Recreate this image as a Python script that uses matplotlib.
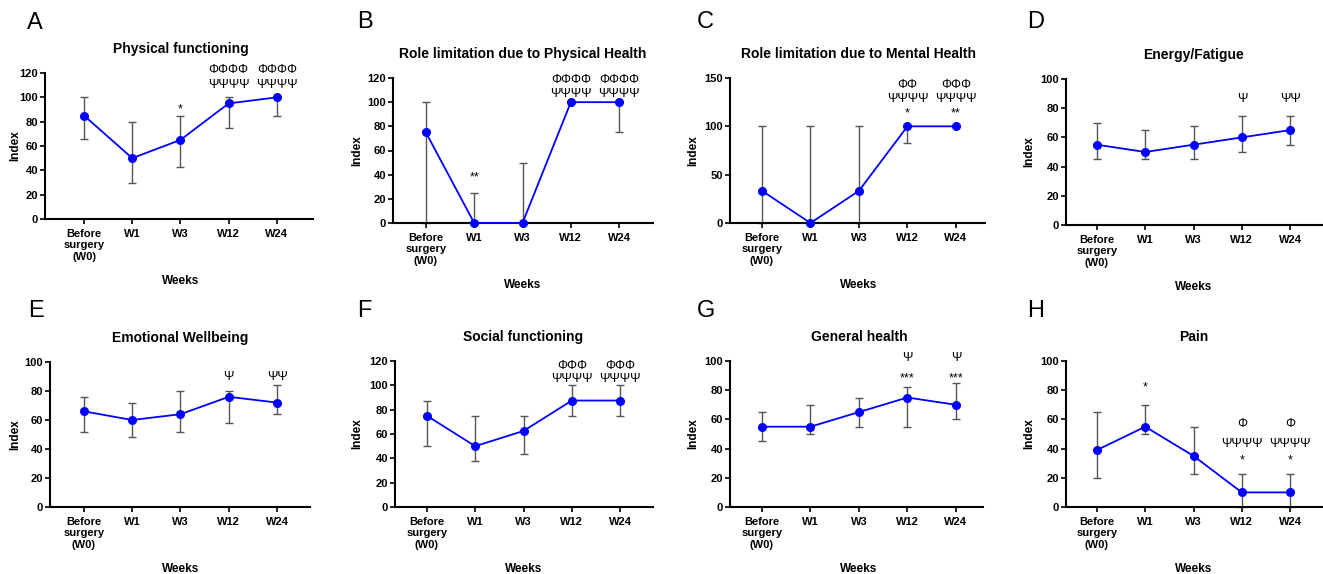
import numpy as np
import matplotlib.pyplot as plt

plt.rcParams['font.family'] = ['Liberation Sans', 'DejaVu Sans']

W, H = 1323, 574
weeks = ['Before\nsurgery\n(W0)', 'W1', 'W3', 'W12', 'W24']

# A - Physical functioning
phys_med = [85, 50, 65, 95, 100]
phys_lo = [66, 30, 43, 75, 85]
phys_hi = [100, 80, 85, 100, 100]
phys_ann = [(2, 90, '*'), (3, 122.5, 'ΦΦΦΦ'), (3, 110.5, 'ΨΨΨΨ'),
            (4, 122.5, 'ΦΦΦΦ'), (4, 110.5, 'ΨΨΨΨ')]

# B - Role limitation due to Physical Health
rp_med = [75, 0, 0, 100, 100]
rp_lo = [0, 0, 0, 100, 75]
rp_hi = [100, 25, 50, 100, 100]
rp_ann = [(1, 38, '**'), (3, 118, 'ΦΦΦΦ'), (3, 107, 'ΨΨΨΨ'),
          (4, 118, 'ΦΦΦΦ'), (4, 107, 'ΨΨΨΨ')]

# C - Role limitation due to Mental Health
rm_med = [33.3, 0, 33.3, 100, 100]
rm_lo = [0, 0, 0, 83, 100]
rm_hi = [100, 100, 100, 100, 100]
rm_ann = [(3, 143, 'ΦΦ'), (3, 128, 'ΨΨΨΨ'), (3, 113, '*'),
          (4, 143, 'ΦΦΦ'), (4, 128, 'ΨΨΨΨ'), (4, 113, '**')]

# D - Energy/Fatigue
en_med = [55, 50, 55, 60, 65]
en_lo = [45, 45, 45, 50, 55]
en_hi = [70, 65, 68, 75, 75]
en_ann = [(3, 86, 'Ψ'), (4, 86, 'ΨΨ')]

# E - Emotional Wellbeing
em_med = [66, 60, 64, 76, 72]
em_lo = [52, 48, 52, 58, 64]
em_hi = [76, 72, 80, 80, 84]
em_ann = [(3, 90, 'Ψ'), (4, 90, 'ΨΨ')]

# F - Social functioning
so_med = [75, 50, 62.5, 87.5, 87.5]
so_lo = [50, 37.5, 43.75, 75, 75]
so_hi = [87.5, 75, 75, 100, 100]
so_ann = [(3, 116, 'ΦΦΦ'), (3, 105, 'ΨΨΨΨ'), (4, 116, 'ΦΦΦ'), (4, 105, 'ΨΨΨΨ')]

# G - General health
gh_med = [55, 55, 65, 75, 70]
gh_lo = [45, 50, 55, 55, 60]
gh_hi = [65, 70, 75, 82.5, 85]
gh_ann = [(3, 102, 'Ψ'), (3, 88, '***'), (4, 102, 'Ψ'), (4, 88, '***')]

# H - Pain
pa_med = [39, 55, 35, 10, 10]
pa_lo = [20, 50, 22.5, 0, 0]
pa_hi = [65, 70, 55, 22.5, 22.5]
pa_ann = [(1, 82, '*'), (3, 57, 'Φ'), (3, 43, 'ΨΨΨΨ'), (3, 32, '*'),
          (4, 57, 'Φ'), (4, 43, 'ΨΨΨΨ'), (4, 32, '*')]

# letter, title, values, annotations, ymax, ystep, axes box in px, xlim, ylabel offset px
panels = [
    ('A', 'Physical functioning', phys_med, phys_lo, phys_hi, phys_ann, 120, 20,
     (45, 313, 73, 219), (-0.81, 4.75), 30),
    ('B', 'Role limitation due to Physical Health', rp_med, rp_lo, rp_hi, rp_ann, 120, 20,
     (393, 653, 78, 223), (-0.68, 4.70), 36),
    ('C', 'Role limitation due to Mental Health', rm_med, rm_lo, rm_hi, rm_ann, 150, 50,
     (730, 985, 78, 223), (-0.66, 4.60), 37),
    ('D', 'Energy/Fatigue', en_med, en_lo, en_hi, en_ann, 100, 20,
     (1066, 1322, 79, 225), (-0.64, 4.66), 37),
    ('E', 'Emotional Wellbeing', em_med, em_lo, em_hi, em_ann, 100, 20,
     (50, 310, 362, 507), (-0.70, 4.68), 35),
    ('F', 'Social functioning', so_med, so_lo, so_hi, so_ann, 120, 20,
     (395, 653, 361, 507), (-0.66, 4.68), 38),
    ('G', 'General health', gh_med, gh_lo, gh_hi, gh_ann, 100, 20,
     (730, 983, 361, 507), (-0.66, 4.56), 37),
    ('H', 'Pain', pa_med, pa_lo, pa_hi, pa_ann, 100, 20,
     (1066, 1322, 361, 507), (-0.64, 4.66), 37),
]

fig = plt.figure(figsize=(W / 100, H / 100), dpi=100)

x = np.arange(len(weeks))
for letter, title, med, lo, hi, ann, ymax, ystep, (l, r, t, b), xl, yoff in panels:
    ax = fig.add_axes([l / W, 1 - b / H, (r - l) / W, (b - t) / H])
    med = np.array(med, dtype=float)
    lo = np.array(lo, dtype=float)
    hi = np.array(hi, dtype=float)
    has_err = (hi - lo) > 0
    ax.errorbar(x[has_err], med[has_err],
                yerr=[med[has_err] - lo[has_err], hi[has_err] - med[has_err]],
                fmt='none', ecolor='#555555', elinewidth=1, capsize=3,
                capthick=1, zorder=2, clip_on=False)
    ax.plot(x, med, color='#0000ff', lw=1.3, marker='o', ms=5.5,
            zorder=3, clip_on=False)
    for i, yv, s in ann:
        ax.text(i, yv, s, ha='center', va='center', fontsize=9, clip_on=False)

    ax.set_xlim(*xl)
    ax.set_ylim(0, ymax)
    ax.set_yticks(np.arange(0, ymax + 1, ystep))
    ax.set_xticks(x)
    ax.set_xticklabels(weeks, fontweight='bold', fontsize=8, linespacing=1.2)
    for lab in ax.get_yticklabels():
        lab.set_fontweight('bold')
        lab.set_fontsize(8)
    for s in ['top', 'right']:
        ax.spines[s].set_visible(False)
    for s in ['left', 'bottom']:
        ax.spines[s].set_linewidth(1.5)
    ax.tick_params(axis='both', direction='out', length=3.6, width=1.2)
    ax.tick_params(axis='y', pad=1.5)
    ax.tick_params(axis='x', pad=3.5)

    wpx = r - l
    hpx = b - t
    ax.set_ylabel('Index', fontweight='bold', fontsize=8.5)
    ax.yaxis.label.set_va('center')
    ax.yaxis.set_label_coords(-yoff / wpx, 0.5)

    ax.text(2, 1 + 24 / hpx, title, transform=ax.get_xaxis_transform(),
            ha='center', va='center', fontsize=10, fontweight='bold')
    ax.text(2, -62 / hpx, 'Weeks', transform=ax.get_xaxis_transform(),
            ha='center', va='center', fontsize=8.5, fontweight='bold')

letter_pos = {'A': (27, 23), 'B': (357, 22), 'C': (697, 22), 'D': (1027, 22),
              'E': (28, 311), 'F': (357, 311), 'G': (697, 311), 'H': (1027, 311)}
for p in panels:
    lx, ly = letter_pos[p[0]]
    fig.text(lx / W, 1 - ly / H, p[0], ha='left', va='center', fontsize=17)

fig.savefig('out.png', dpi=100)
